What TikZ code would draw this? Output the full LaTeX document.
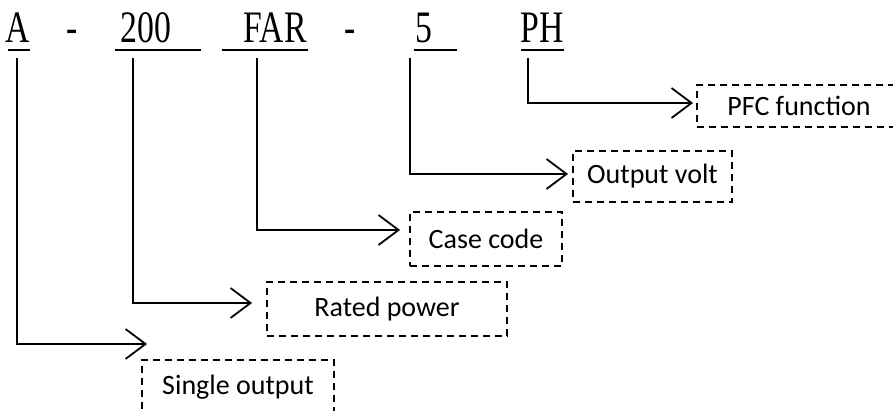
\documentclass[tikz,border=0pt]{standalone}
\usepackage{fontspec}
\setsansfont{Carlito}
\newfontfamily\codefont[FakeStretch=0.75]{Liberation Serif}
\usetikzlibrary{arrows.meta}

\begin{document}
\begin{tikzpicture}[x=1pt, y=-1pt,
  code/.style={font=\codefont\fontsize{45}{50}\selectfont, inner sep=0pt, anchor=base},
  uline/.style={line width=2.4pt},
  box/.style={draw, dash pattern=on 7pt off 5pt, line width=1.5pt, inner sep=0pt,
              font=\sffamily\fontsize{28}{30}\selectfont},
  arr/.style={line width=1.8pt, -{Straight Barb[length=20pt, width=30pt]}}]
  \useasboundingbox (0,0) rectangle (893,411);
  \clip (0,0) rectangle (893,411);

  % model code
  \node[code] (cA) at (18,43) {A};
  \node[code] (d1) at (72,43) {-};
  \node[code] (c200) at (146,43) {200};
  \node[code] (cFAR) at (275,43) {FAR};
  \node[code] (d2) at (350,43) {-};
  \node[code] (c5) at (424,43) {5};
  \node[code] (cPH) at (542,43) {PH};
  \draw[uline] (8,50) -- (30,50);
  \draw[uline] (115,50) -- (201,50);
  \draw[uline] (222,50) -- (308,50);
  \draw[uline] (414,50) -- (457,50);
  \draw[uline] (521,50) -- (564,50);

  % explanation boxes
  \node[box, minimum width=204pt, minimum height=42pt] (pfc) at (799,106) {PFC function};
  \node[box, minimum width=159pt, minimum height=51pt] (volt) at (652.5,176.5) {Output volt};
  \node[box, minimum width=152pt, minimum height=54pt] (case) at (486,239) {Case code};
  \node[box, minimum width=240pt, minimum height=54pt] (rated) at (387,309) {Rated power};
  \node[box, minimum width=192pt, minimum height=54pt] (single) at (238,387) {Single output};

  % leaders
  \coordinate (sA) at (17,58);    \coordinate (eA) at (147,344);
  \coordinate (s200) at (133,58); \coordinate (e200) at (252,303);
  \coordinate (sFAR) at (257,58); \coordinate (eFAR) at (400,230);
  \coordinate (s5) at (410,58);   \coordinate (e5) at (568,174);
  \coordinate (sPH) at (528,58);  \coordinate (ePH) at (693,103);
  \draw[arr] (sA) |- (eA);
  \draw[arr] (s200) |- (e200);
  \draw[arr] (sFAR) |- (eFAR);
  \draw[arr] (s5) |- (e5);
  \draw[arr] (sPH) |- (ePH);
\end{tikzpicture}
\end{document}
